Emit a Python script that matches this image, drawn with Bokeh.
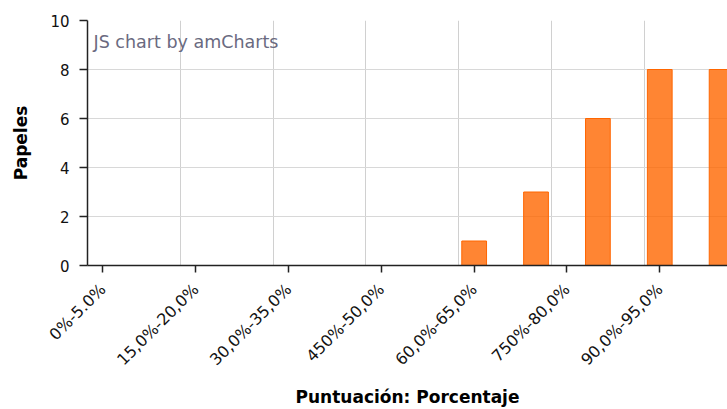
from bokeh.plotting import figure
from bokeh.models import ColumnDataSource, FixedTicker, Label, Range1d
from bokeh.embed import file_html
from bokeh.resources import INLINE

# ---- data ----
categories = [
    "0%-5.0%", "5,0%-10,0%", "10,0%-15,0%", "15,0%-20,0%", "20,0%-25,0%",
    "25,0%-30,0%", "30,0%-35,0%", "35,0%-40,0%", "40,0%-45,0%", "450%-50,0%",
    "50,0%-55,0%", "55,0%-60,0%", "60,0%-65,0%", "65,0%-70,0%", "70,0%-75,0%",
    "750%-80,0%", "80,0%-85,0%", "85,0%-90,0%", "90,0%-95,0%", "95,0%-100,0%",
    "100,0%",
]
papeles = [0, 0, 0, 0, 0, 0, 0, 0, 0, 0, 0, 0, 1, 0, 3, 0, 6, 0, 8, 0, 8]
label_step = 3
y_ticks = [0, 2, 4, 6, 8, 10]

FONT = "DejaVu Sans"

idx = [i for i, v in enumerate(papeles) if v > 0]
source = ColumnDataSource(data=dict(
    x=idx,
    top=[papeles[i] for i in idx],
    cat=[categories[i] for i in idx],
))

p = figure(width=727, height=409, output_backend="svg", toolbar_location=None,
           x_range=Range1d(-0.5, 20.19), y_range=Range1d(0, 10))
p.min_border_left = 87
p.min_border_top = 20
p.min_border_right = 0
p.min_border_bottom = 0
p.outline_line_color = None
p.background_fill_color = "white"
p.border_fill_color = "white"

p.vbar(x="x", top="top", width=0.8, source=source,
       fill_color="#FF6600", fill_alpha=0.8, line_color="#FF6600", line_width=1)

shown = list(range(0, len(categories), label_step))
p.xaxis.ticker = FixedTicker(ticks=shown)
p.xaxis.major_label_overrides = {i: categories[i] for i in shown}
p.xaxis.major_label_orientation = 0.7854
p.xaxis.minor_tick_line_color = None
p.xaxis.major_tick_in = 0
p.xaxis.major_tick_out = 7
p.xaxis.major_label_standoff = 14
p.xaxis.axis_label = "Puntuación: Porcentaje"
p.xaxis.axis_label_standoff = 8

p.yaxis.ticker = FixedTicker(ticks=y_ticks)
p.yaxis.minor_tick_line_color = None
p.yaxis.major_tick_in = 0
p.yaxis.major_tick_out = 8
p.yaxis.major_label_standoff = 10
p.yaxis.axis_label = "Papeles"
p.yaxis.axis_label_standoff = 16

for ax in (p.xaxis, p.yaxis):
    ax.axis_line_color = "#222222"
    ax.axis_line_width = 1.5
    ax.major_tick_line_color = "#222222"
    ax.major_tick_line_width = 1.5
    ax.major_label_text_font = FONT
    ax.major_label_text_color = "#111111"
    ax.axis_label_text_font = FONT
    ax.axis_label_text_font_size = "17px"
    ax.axis_label_text_font_style = "bold"
    ax.axis_label_text_color = "#000000"
p.xaxis.major_label_text_font_size = "16px"
p.yaxis.major_label_text_font_size = "15px"

p.xgrid.ticker = FixedTicker(ticks=[i - 0.5 for i in range(label_step, len(categories) + 1, label_step)])
p.xgrid.grid_line_color = "#d0d0d0"
p.ygrid.grid_line_color = "#d8d8d8"

p.add_layout(Label(x=-0.5, y=10, x_offset=6, y_offset=-11, text="JS chart by amCharts",
                   text_font=FONT, text_font_size="17.5px", text_color="#6a6a80",
                   text_baseline="top", text_align="left"))

open("out.html", "w").write(file_html(p, INLINE))
